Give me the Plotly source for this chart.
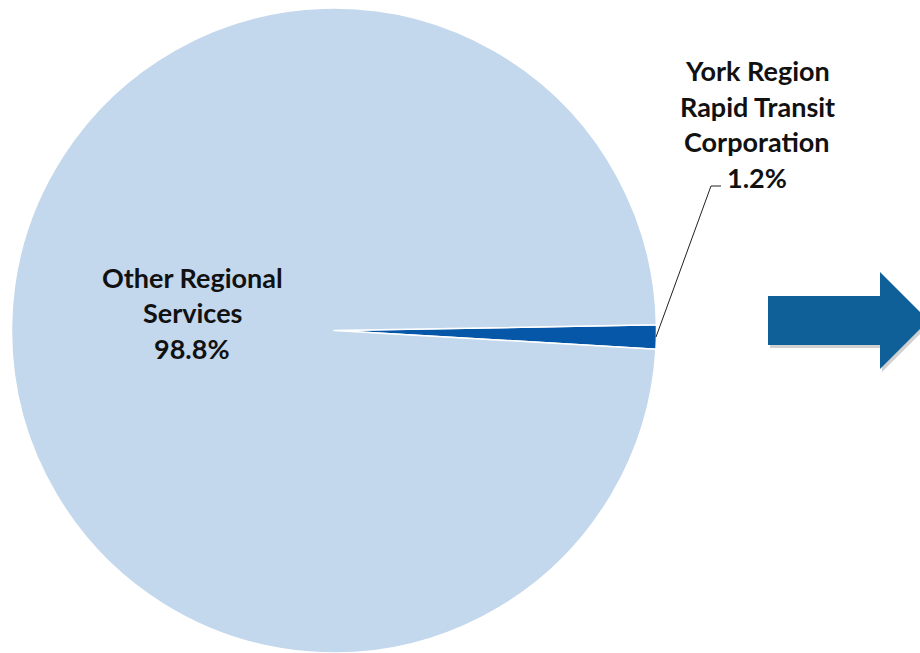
import plotly.graph_objects as go

# ---- data ----
labels = ["York Region<br>Rapid Transit<br>Corporation", "Other Regional<br>Services"]
values = [1.2, 98.8]
colors = ["#0657A8", "#C3D8EC"]

W, H = 920, 653

def px(x):
    return x / W

def py(y):
    return 1 - y / H

fig = go.Figure()
fig.add_trace(go.Pie(
    labels=[l.replace("<br>", " ") for l in labels],
    values=values,
    sort=False,
    direction="clockwise",
    rotation=89,
    marker=dict(colors=colors, line=dict(color="white", width=1.5)),
    textinfo="none",
    hoverinfo="label+percent",
    showlegend=False,
    domain=dict(x=[px(10), px(658)], y=[py(653), py(8)]),
))

font = dict(family="Lato, Carlito, Calibri, sans-serif", size=27, color="#111111")
annotations = []
label_pos = [(757, 71), (192, 277)]
for lab, val, (cx, cy) in zip(labels, values, label_pos):
    lines = lab.split("<br>") + [f"{val:.1f}%"]
    for i, t in enumerate(lines):
        annotations.append(dict(
            x=px(cx), y=py(cy + i * 35.5), xref="paper", yref="paper",
            text=f"<b>{t}</b>", showarrow=False, font=font,
            xanchor="center", yanchor="middle",
        ))

shapes = []
# leader line
shapes.append(dict(type="path", xref="paper", yref="paper",
                   path=f"M {px(656)},{py(337)} L {px(711)},{py(186)} L {px(721)},{py(186)}",
                   line=dict(color="#222222", width=1)))

# block arrow (shadow + body)
def arrow_path(dx=0, dy=0):
    pts = [(768, 296), (880, 296), (880, 272), (928.5, 320.5), (880, 369), (880, 345), (768, 345)]
    return "M " + " L ".join(f"{px(x + dx)},{py(y + dy)}" for x, y in pts) + " Z"

shapes.append(dict(type="path", xref="paper", yref="paper", path=arrow_path(2, 3),
                   fillcolor="rgba(0,0,0,0.18)", line=dict(width=0), layer="below"))
shapes.append(dict(type="path", xref="paper", yref="paper", path=arrow_path(),
                   fillcolor="#0F5F98", line=dict(width=0)))

fig.update_layout(
    width=W, height=H,
    margin=dict(l=0, r=0, t=0, b=0),
    paper_bgcolor="white", plot_bgcolor="white",
    annotations=annotations, shapes=shapes,
)

fig.write_html("out.html")
